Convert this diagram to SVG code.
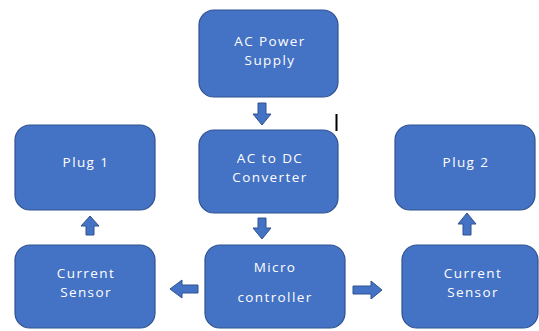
<svg xmlns="http://www.w3.org/2000/svg" width="539" height="331" viewBox="0 0 539 331">
<style>
.box{fill:#4472C4;stroke:#2F528F;stroke-width:1.2}
.t{fill:#fff;font-family:"Open Sans","Noto Sans",sans-serif;font-size:13.5px;letter-spacing:1.4px;text-anchor:middle}
.arr{fill:#4472C4;stroke:#2F528F;stroke-width:1}
</style>
<rect width="539" height="331" fill="#fff"/>
<g id="ac-power">
<rect class="box" x="199" y="10" width="139" height="87" rx="15"/>
<text class="t" x="270" y="46">AC Power</text>
<text class="t" x="270" y="65">Supply</text>
</g>
<g id="ac-dc">
<rect class="box" x="199" y="130" width="139" height="83" rx="15"/>
<text class="t" x="270" y="163">AC to DC</text>
<text class="t" x="270" y="182">Converter</text>
</g>
<g id="micro">
<rect class="box" x="205" y="245" width="140" height="83" rx="15"/>
<text class="t" x="275" y="272">Micro</text>
<text class="t" x="275" y="302">controller</text>
</g>
<g id="plug1">
<rect class="box" x="15" y="125" width="140" height="85" rx="15"/>
<text class="t" x="86" y="167">Plug 1</text>
</g>
<g id="sensor1">
<rect class="box" x="15" y="245" width="140" height="83" rx="15"/>
<text class="t" x="86" y="278">Current</text>
<text class="t" x="86" y="297">Sensor</text>
</g>
<g id="plug2">
<rect class="box" x="395" y="125" width="140" height="85" rx="15"/>
<text class="t" x="466" y="167">Plug 2</text>
</g>
<g id="sensor2">
<rect class="box" x="402" y="245" width="136" height="83" rx="15"/>
<text class="t" x="473" y="278">Current</text>
<text class="t" x="473" y="297">Sensor</text>
</g>
<g id="connectors">
<polygon class="arr" points="258,103 266,103 266,114 271,114 262,125 253,114 258,114"/>
<polygon class="arr" points="258,218 266,218 266,228 271,228 262,239 253,228 258,228"/>
<polygon class="arr" points="86,235 94,235 94,226 99,226 90,216 81,226 86,226"/>
<polygon class="arr" points="463,235 471,235 471,224 476,224 467,213 458,224 463,224"/>
<polygon class="arr" points="198,285 198,293 182,293 182,298 170,289 182,280 182,285"/>
<polygon class="arr" points="353,286 353,294 371,294 371,299 382,290 371,281 371,286"/>
</g>
<rect x="335.5" y="114" width="2" height="17" fill="#000"/>
</svg>
